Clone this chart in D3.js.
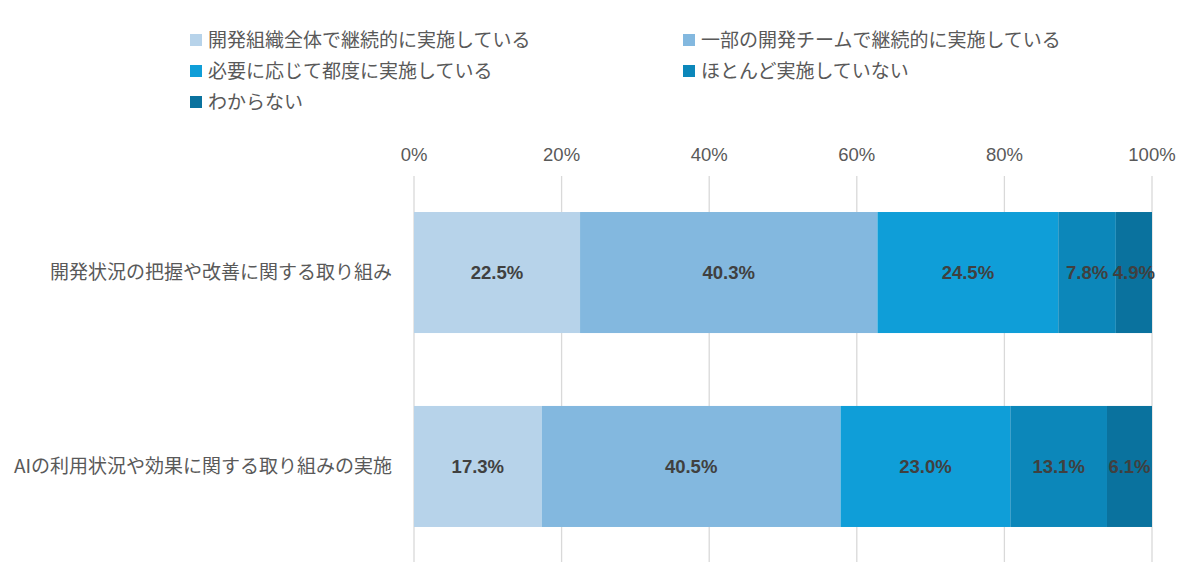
<!DOCTYPE html>
<html><head><meta charset="utf-8">
<script src="https://cdn.jsdelivr.net/npm/d3@7"></script>
<style>body{margin:0;background:#fff;font-family:"Noto Sans CJK JP",Roboto,sans-serif;}</style>
</head><body><svg id="c" width="1200" height="588"></svg>
<script>
const categories = ["開発状況の把握や改善に関する取り組み","AIの利用状況や効果に関する取り組みの実施"];
const seriesNames = ["開発組織全体で継続的に実施している","一部の開発チームで継続的に実施している","必要に応じて都度に実施している","ほとんど実施していない","わからない"];
const seriesValues = [
  [22.5,17.3],
  [40.3,40.5],
  [24.5,23.0],
  [7.8,13.1],
  [4.9,6.1]
];
const tickValues = [0,20,40,60,80,100];
const colors = ["#B7D3EA","#83B8DF","#0F9ED8","#0C87BA","#0A729E"];

const svg = d3.select("#c");
const x = d3.scaleLinear().domain([0,100]).range([414,1152]);
const y = d3.scaleBand().domain(categories).range([177.5,561.5]).paddingInner(0.376).paddingOuter(0.178);

// grid
svg.append("g").selectAll("line").data(tickValues).join("line")
  .attr("x1",d=>x(d)).attr("x2",d=>x(d)).attr("y1",176).attr("y2",562)
  .attr("stroke","#D9D9D9").attr("stroke-width",1.3);
// tick labels
svg.append("g").selectAll("text").data(tickValues).join("text")
  .attr("x",d=>x(d)).attr("y",161).attr("text-anchor","middle")
  .attr("font-size",18.5).attr("fill","#595959").attr("font-family","'Liberation Sans',Arial,sans-serif")
  .text(d=>d+"%");

// stacked
const rows = categories.map((c,i)=>{const o={cat:c}; seriesNames.forEach((s,j)=>o[s]=seriesValues[j][i]); return o;});
const stack = d3.stack().keys(seriesNames)(rows);
stack.forEach((layer,j)=>{
  const g = svg.append("g");
  g.selectAll("rect").data(layer).join("rect")
    .attr("x",d=>x(d[0])).attr("width",d=>x(d[1])-x(d[0]))
    .attr("y",d=>y(d.data.cat)).attr("height",y.bandwidth())
    .attr("fill",colors[j]);
  g.selectAll("text").data(layer).join("text")
    .attr("x",d=>(x(d[0])+x(d[1]))/2).attr("y",d=>y(d.data.cat)+y.bandwidth()/2+6.5)
    .attr("text-anchor","middle").attr("font-size",18.5).attr("font-weight","bold")
    .attr("fill","#404040").attr("font-family","'Liberation Sans',Arial,sans-serif")
    .text(d=>(d[1]-d[0]).toFixed(1)+"%");
});

// category labels
svg.append("g").selectAll("text").data(categories).join("text")
  .attr("x",392).attr("y",d=>y(d)+y.bandwidth()/2+6.5).attr("text-anchor","end")
  .attr("font-size",19).attr("fill","#595959").text(d=>d);

// legend
const legPos = [[190,40],[683,40],[190,71],[683,71],[190,102]];
seriesNames.forEach((s,j)=>{
  const [lx,ly]=legPos[j];
  svg.append("rect").attr("x",lx).attr("y",ly-6).attr("width",12).attr("height",12).attr("fill",colors[j]);
  svg.append("text").attr("x",lx+18).attr("y",ly+6.5).attr("font-size",19).attr("fill","#595959").text(s);
});
</script></body></html>
